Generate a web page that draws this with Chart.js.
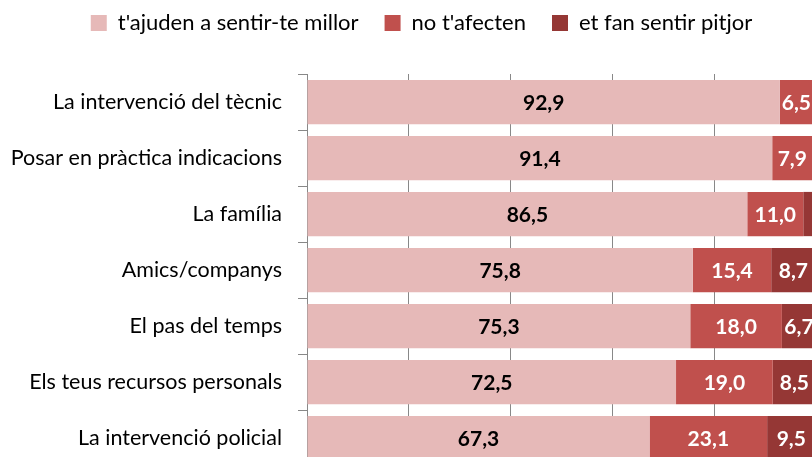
<!DOCTYPE html>
<html>
<head>
<meta charset="utf-8">
<script src="https://cdn.jsdelivr.net/npm/chart.js@4/dist/chart.umd.min.js"></script>
<style>
  html, body { margin: 0; padding: 0; background: #fff; overflow: hidden; }
  #wrap { position: absolute; left: 0; top: 0; width: 842px; height: 495px; }
</style>
</head>
<body>
<div id="wrap"><canvas id="chart" width="842" height="495"></canvas></div>
<script>
"use strict";

const categories = ['La intervenció del tècnic', 'Posar en pràctica indicacions', 'La família', 'Amics/companys', 'El pas del temps', 'Els teus recursos personals', 'La intervenció policial'];
const seriesNames = ["t'ajuden a sentir-te millor", "no t'afecten", 'et fan sentir pitjor'];
const better = [92.9, 91.4, 86.5, 75.8, 75.3, 72.5, 67.3];
const noEffect = [6.5, 7.9, 11.0, 15.4, 18.0, 19.0, 23.1];
const worse = [0.6, 0.7, 2.5, 8.7, 6.7, 8.5, 9.5];

const fontFamily = 'Lato, "Liberation Sans", sans-serif';

// value labels centred in each segment
const barLabels = {
    id: 'barLabels',
    afterDatasetsDraw(chart) {
        const ctx = chart.ctx;
        ctx.save();
        ctx.font = 'bold 21px ' + fontFamily;
        ctx.textAlign = 'center';
        ctx.textBaseline = 'middle';
        chart.data.datasets.forEach(function (ds, i) {
            const meta = chart.getDatasetMeta(i);
            meta.data.forEach(function (bar, j) {
                const v = ds.data[j];
                if (v < 3) return;
                const p = bar.getCenterPoint();
                ctx.fillStyle = i === 0 ? '#000' : '#fff';
                ctx.fillText(v.toFixed(1).replace('.', ','), p.x, p.y + 1);
            });
        });
        ctx.restore();
    }
};

// legend sits a bit right of the canvas centre in the original
const legendShift = {
    id: 'legendShift',
    beforeDraw(chart) {
        chart.legend.left = 27;
    }
};

const ctx = document.getElementById('chart').getContext('2d');

new Chart(ctx, {
    type: 'bar',
    data: {
        labels: categories,
        datasets: [
            { label: seriesNames[0], data: better, backgroundColor: '#E6B9B8' },
            { label: seriesNames[1], data: noEffect, backgroundColor: '#C0504D' },
            { label: seriesNames[2], data: worse, backgroundColor: '#953735' }
        ]
    },
    options: {
        indexAxis: 'y',
        responsive: false,
        animation: false,
        devicePixelRatio: 1,
        categoryPercentage: 1,
        barPercentage: 0.79,
        layout: { padding: { top: -14, right: 26, bottom: 10, left: 0 } },
        scales: {
            x: {
                position: 'top',
                stacked: true,
                min: 0,
                max: 100,
                ticks: { display: false, stepSize: 20 },
                grid: { color: '#888', drawTicks: true, tickLength: 30, tickColor: 'rgba(0,0,0,0)' },
                border: { display: false }
            },
            y: {
                stacked: true,
                afterFit(scale) { scale.width = 307; },
                ticks: { color: '#000', padding: 16, font: { family: fontFamily, size: 21.5 } },
                grid: { drawOnChartArea: false, drawTicks: true, tickLength: 9, color: '#888', offset: true },
                border: { display: true, color: '#888' }
            }
        },
        plugins: {
            legend: {
                position: 'top',
                labels: {
                    color: '#000',
                    boxWidth: 16,
                    boxHeight: 16,
                    padding: 26,
                    font: { family: fontFamily, size: 22 }
                }
            },
            tooltip: { enabled: false }
        }
    },
    plugins: [barLabels, legendShift]
});
</script>
</body>
</html>
